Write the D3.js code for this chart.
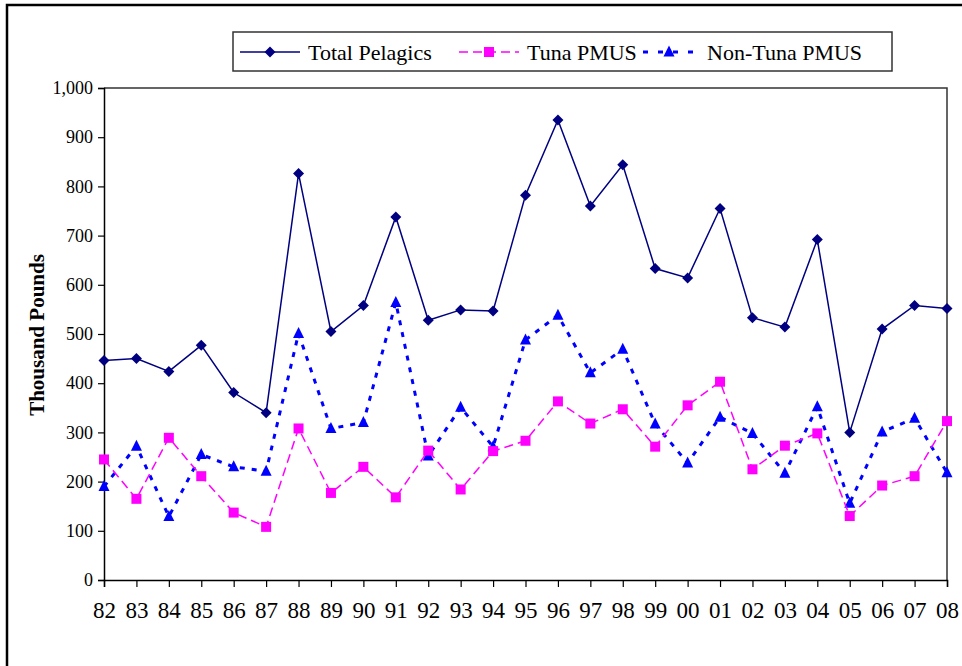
<!DOCTYPE html>
<html><head><meta charset="utf-8">
<script src="https://cdn.jsdelivr.net/npm/d3@7"></script>
<style>body{margin:0;background:#fff;} svg{display:block;} text{font-family:'Liberation Serif','Times New Roman',serif;}</style>
</head><body>
<svg id="c" width="962" height="666"></svg>
<script>
const years = ["82","83","84","85","86","87","88","89","90","91","92","93","94","95","96","97","98","99","00","01","02","03","04","05","06","07","08"];
const totalPelagics = [446,450,424,477,381,340,826,505,558,738,528,549,547,782,935,760,844,633,614,755,533,514,692,300,510,558,552];
const tunaPMUS = [245,165,289,211,137,108,308,177,230,168,263,184,262,283,363,318,347,271,355,403,225,273,298,130,192,211,323];
const nonTunaPMUS = [190,272,129,255,230,221,501,308,320,564,252,351,271,488,538,421,469,317,238,331,298,217,352,156,301,329,218];
const yTicks = [0,100,200,300,400,500,600,700,800,900,1000];
const seriesNames = ["Total Pelagics","Tuna PMUS","Non-Tuna PMUS"];

const svg = d3.select("#c");
const L=104, R=947, T=88, B=580;
const x = d3.scalePoint().domain(years).range([L,R]);
const y = d3.scaleLinear().domain([0,1000]).range([B,T]);
const font = "'Liberation Serif','Times New Roman',serif";

svg.append("path").attr("d","M7,666 V5 H962").attr("fill","none").attr("stroke","#000").attr("stroke-width",2.5);
svg.append("path").attr("d",`M${L},${T} H${R} V${B}`).attr("fill","none").attr("stroke","#333").attr("stroke-width",1.5);

const ya = svg.append("g").attr("transform",`translate(${L},0)`)
  .call(d3.axisLeft(y).tickValues(yTicks).tickSize(6).tickPadding(5).tickFormat(d3.format(",")));
ya.select(".domain").attr("stroke","#000").attr("stroke-width",1.5);
ya.selectAll(".tick line").attr("stroke","#000").attr("stroke-width",1.2);
ya.selectAll("text").style("font-family",font).attr("font-size",18).attr("fill","#000");

const xa = svg.append("g").attr("transform",`translate(0,${B})`)
  .call(d3.axisBottom(x).tickSize(7).tickPadding(15));
xa.select(".domain").attr("stroke","#000").attr("stroke-width",1.5);
xa.selectAll(".tick line").attr("stroke","#000").attr("stroke-width",1.2);
xa.selectAll("text").style("font-family",font).attr("font-size",23).attr("fill","#000");

svg.append("text").attr("transform","translate(44,335) rotate(-90)")
  .attr("text-anchor","middle").style("font-family",font).attr("font-size",21).attr("font-weight","bold")
  .text("Thousand Pounds");

const styles = [
  {data: totalPelagics, color:"#000080", width:1.5, dash:null, marker:"diamond"},
  {data: tunaPMUS, color:"#FF00FF", width:1.5, dash:"9,5", marker:"square"},
  {data: nonTunaPMUS, color:"#0000FF", width:3, dash:"5,7", marker:"triangle"}
];
function drawMarker(g, type, cx, cy, color){
  if(type==="diamond"){
    g.append("path").attr("d",`M${cx},${cy-5.5} L${cx+5.5},${cy} L${cx},${cy+5.5} L${cx-5.5},${cy} Z`).attr("fill",color);
  } else if(type==="square"){
    g.append("rect").attr("x",cx-5).attr("y",cy-5).attr("width",10).attr("height",10).attr("fill",color);
  } else {
    g.append("path").attr("d",`M${cx},${cy-6.5} L${cx+5.5},${cy+4.5} L${cx-5.5},${cy+4.5} Z`).attr("fill",color);
  }
}
const line = d3.line().x((d,i)=>x(years[i])).y(d=>y(d));
[2,1,0].forEach(k=>{
  const s = styles[k];
  const p = svg.append("path").attr("d",line(s.data)).attr("fill","none").attr("stroke",s.color).attr("stroke-width",s.width);
  if(s.dash) p.attr("stroke-dasharray",s.dash);
  const g = svg.append("g");
  s.data.forEach((v,i)=>drawMarker(g,s.marker,x(years[i]),y(v),s.color));
});

const lg = svg.append("g");
lg.append("rect").attr("x",233).attr("y",32).attr("width",659).attr("height",39).attr("fill","#fff").attr("stroke","#333").attr("stroke-width",1.5);
const legX = [240,459,639];
styles.forEach((s,k)=>{
  const lx = legX[k], ly = 52;
  const p = lg.append("line").attr("x1",lx).attr("x2",lx+60).attr("y1",ly).attr("y2",ly).attr("stroke",s.color).attr("stroke-width",s.width);
  if(s.dash) p.attr("stroke-dasharray", k===1 ? "9,5" : "5,10").attr("stroke-dashoffset", k===2 ? -4 : 0);
  drawMarker(lg,s.marker,lx+30,ly,s.color);
  lg.append("text").attr("x",lx+68).attr("y",ly+8).style("font-family",font).attr("font-size",22).attr("fill","#000").text(seriesNames[k]);
});
</script>
</body></html>
